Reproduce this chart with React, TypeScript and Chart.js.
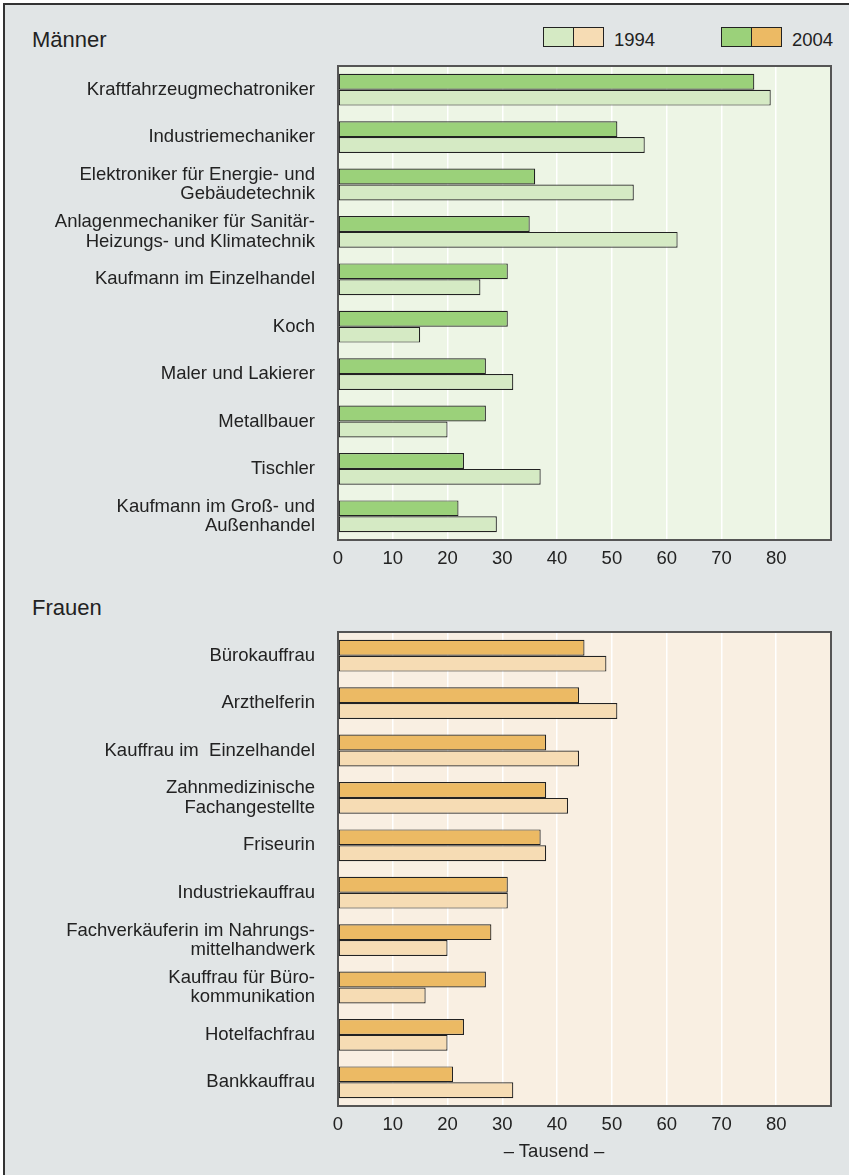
import React, { useEffect, useRef } from 'react';
import { Chart, registerables } from 'chart.js';
Chart.register(...registerables);

const FONT = '"Liberation Sans", Arial, Helvetica, sans-serif';

const menCategories: (string | string[])[] = [
  'Kraftfahrzeugmechatroniker',
  'Industriemechaniker',
  ['Elektroniker für Energie- und', 'Gebäudetechnik'],
  ['Anlagenmechaniker für Sanitär-', 'Heizungs- und Klimatechnik'],
  'Kaufmann im Einzelhandel',
  'Koch',
  'Maler und Lakierer',
  'Metallbauer',
  'Tischler',
  ['Kaufmann im Groß- und', 'Außenhandel'],
];
const men2004 = [76, 51, 36, 35, 31, 31, 27, 27, 23, 22];
const men1994 = [79, 56, 54, 62, 26, 15, 32, 20, 37, 29];

const womenCategories: (string | string[])[] = [
  'Bürokauffrau',
  'Arzthelferin',
  'Kauffrau im  Einzelhandel',
  ['Zahnmedizinische', 'Fachangestellte'],
  'Friseurin',
  'Industriekauffrau',
  ['Fachverkäuferin im Nahrungs-', 'mittelhandwerk'],
  ['Kauffrau für Büro-', 'kommunikation'],
  'Hotelfachfrau',
  'Bankkauffrau',
];
const women2004 = [45, 44, 38, 38, 37, 31, 28, 27, 23, 21];
const women1994 = [49, 51, 44, 42, 38, 31, 20, 16, 20, 32];

const xTicks = [0, 10, 20, 30, 40, 50, 60, 70, 80];
const xMax = 90;

type PanelProps = {
  top: number;
  height: number;
  axisHeight: number;
  labels: (string | string[])[];
  d2004: number[];
  d1994: number[];
  c2004: string;
  c1994: string;
  bg: string;
};

function BarPanel(p: PanelProps) {
  const ref = useRef<HTMLCanvasElement | null>(null);
  useEffect(() => {
    if (!ref.current) return;
    const panelPlugin = {
      id: 'panelBg',
      beforeDraw(chart: any) {
        const { ctx, chartArea: a } = chart;
        ctx.save();
        ctx.fillStyle = p.bg;
        ctx.fillRect(a.left, a.top, a.right - a.left, a.bottom - a.top);
        ctx.restore();
      },
      afterDatasetsDraw(chart: any) {
        const { ctx, chartArea: a } = chart;
        ctx.save();
        ctx.strokeStyle = '#555';
        ctx.lineWidth = 2;
        ctx.strokeRect(a.left, a.top, a.right - a.left, a.bottom - a.top);
        ctx.restore();
      },
    };
    const chart = new Chart(ref.current, {
      type: 'bar',
      data: {
        labels: p.labels as any,
        datasets: [
          {
            label: '2004',
            data: p.d2004,
            backgroundColor: p.c2004,
            borderColor: '#222',
            borderWidth: 1.2,
            borderSkipped: false,
          },
          {
            label: '1994',
            data: p.d1994,
            backgroundColor: p.c1994,
            borderColor: '#222',
            borderWidth: 1.2,
            borderSkipped: false,
          },
        ],
      },
      options: {
        indexAxis: 'y',
        animation: false,
        responsive: false,
        maintainAspectRatio: false,
        layout: { padding: { top: 10, right: 18, left: 0, bottom: 0 } },
        plugins: { legend: { display: false }, tooltip: { enabled: false } },
        datasets: { bar: { categoryPercentage: 0.67, barPercentage: 1 } },
        scales: {
          x: {
            min: 0,
            max: xMax,
            afterBuildTicks: (s: any) => {
              s.ticks = [...xTicks, xMax].map((v) => ({ value: v }));
            },
            ticks: {
              callback: (v: any) => (xTicks.includes(Number(v)) ? String(v) : ''),
              color: '#222',
              font: { family: FONT, size: 18.5 },
              padding: 8,
              maxRotation: 0,
            },
            grid: { color: '#ffffff', lineWidth: 1.5, drawTicks: false },
            border: { display: false },
            afterFit: (s: any) => {
              s.height = p.axisHeight;
              s.paddingLeft = 0;
              s.paddingRight = 0;
            },
          },
          y: {
            ticks: {
              color: '#222',
              font: { family: FONT, size: 18.5, lineHeight: 1.03 },
              padding: 23,
              autoSkip: false,
            },
            grid: { display: false, drawTicks: false },
            border: { display: false },
            afterFit: (s: any) => {
              s.width = 338;
              s.paddingTop = 0;
              s.paddingBottom = 0;
            },
          },
        },
      } as any,
      plugins: [panelPlugin],
    });
    return () => chart.destroy();
  }, []);
  return (
    <canvas
      ref={ref}
      width={849}
      height={p.height}
      style={{ position: 'absolute', left: 0, top: p.top, width: 849, height: p.height }}
    />
  );
}

function LegendItem({ left, c1, c2, text }: { left: number; c1: string; c2: string; text: string }) {
  const box = (c: string, l: number) => (
    <div
      style={{
        position: 'absolute',
        left: l,
        top: 27,
        width: 31,
        height: 20,
        background: c,
        border: '1.5px solid #222',
        boxSizing: 'border-box',
      }}
    />
  );
  return (
    <>
      {box(c1, left)}
      {box(c2, left + 30)}
      <div
        style={{
          position: 'absolute',
          left: left + 71,
          top: 29,
          fontSize: 18.5,
          lineHeight: '22px',
          color: '#222',
          fontFamily: FONT,
        }}
      >
        {text}
      </div>
    </>
  );
}

export default function App() {
  return (
    <div
      style={{
        position: 'absolute',
        left: 0,
        top: 0,
        width: 849,
        height: 1175,
        background: '#fff',
        overflow: 'hidden',
        fontFamily: FONT,
      }}
    >
      <div
        style={{
          position: 'absolute',
          left: 3,
          top: 3,
          width: 900,
          height: 1250,
          background: '#e1e5e6',
          borderLeft: '2px solid #333',
          borderTop: '2px solid #333',
        }}
      />
      <div style={{ position: 'absolute', left: 32, top: 27, fontSize: 22, lineHeight: '26px', color: '#222' }}>
        Männer
      </div>
      <div style={{ position: 'absolute', left: 32, top: 595, fontSize: 22, lineHeight: '26px', color: '#222' }}>
        Frauen
      </div>
      <LegendItem left={543} c1="#d5eac4" c2="#f6dcb4" text="1994" />
      <LegendItem left={721} c1="#9bd17a" c2="#ecba64" text="2004" />
      <BarPanel
        top={56}
        height={520}
        axisHeight={36}
        labels={menCategories}
        d2004={men2004}
        d1994={men1994}
        c2004="#9bd17a"
        c1994="#d5eac4"
        bg="#edf5e5"
      />
      <BarPanel
        top={622}
        height={553}
        axisHeight={69}
        labels={womenCategories}
        d2004={women2004}
        d1994={women1994}
        c2004="#ecba64"
        c1994="#f6dcb4"
        bg="#f9efe2"
      />
      <div
        style={{
          position: 'absolute',
          left: 495,
          top: 1140,
          width: 118,
          textAlign: 'center',
          fontSize: 18.5,
          lineHeight: '22px',
          color: '#222',
          whiteSpace: 'nowrap',
        }}
      >
        – Tausend –
      </div>
    </div>
  );
}
